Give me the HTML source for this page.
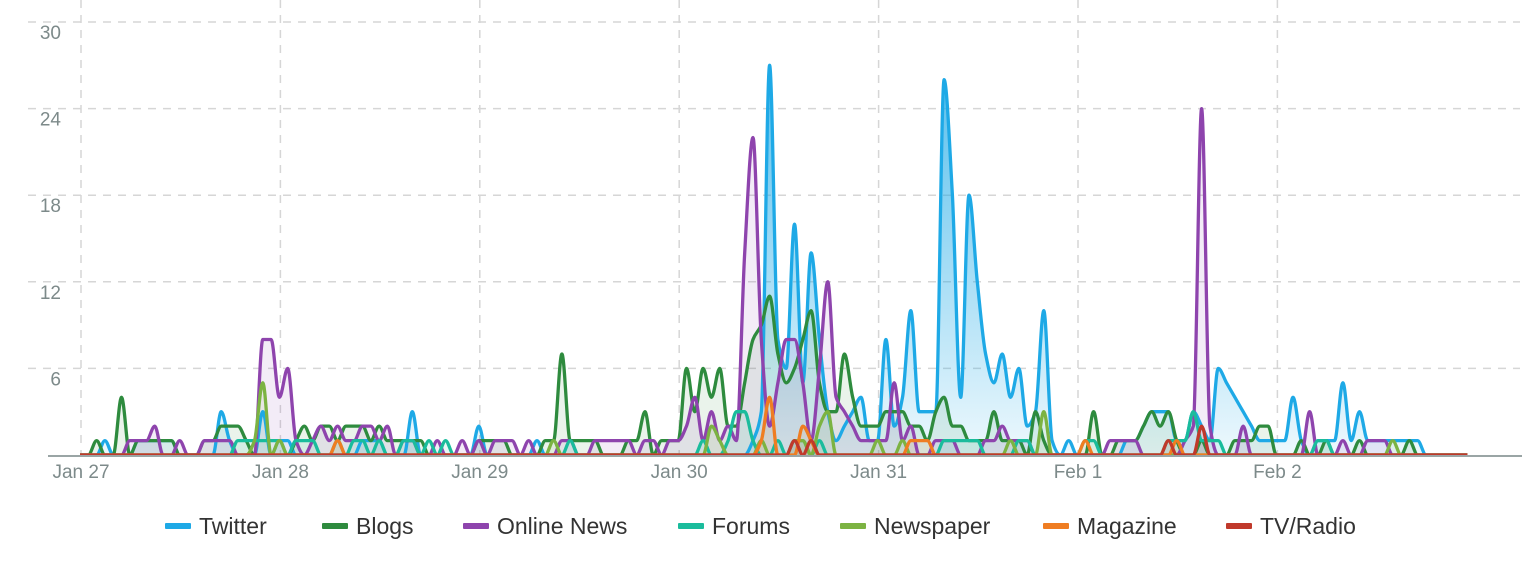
<!DOCTYPE html>
<html><head><meta charset="utf-8"><style>
html,body{margin:0;padding:0;background:#fff;}
body{width:1534px;height:570px;overflow:hidden;font-family:"Liberation Sans",sans-serif;}
svg text{font-family:"Liberation Sans",sans-serif;}
</style></head><body>
<svg id="chart" width="1534" height="570" xmlns="http://www.w3.org/2000/svg">
<defs>
<linearGradient id="twGrad" x1="0" y1="0" x2="0" y2="1">
<stop offset="0" stop-color="#1ea9e6" stop-opacity="0.75"/>
<stop offset="1" stop-color="#1ea9e6" stop-opacity="0.08"/>
</linearGradient>
</defs>
<g id="grid"></g><g id="fills"></g><g id="lines"></g><g id="axes"></g><g id="legend"></g>
</svg>
<script>
const dayLabels = ["Jan 27","Jan 28","Jan 29","Jan 30","Jan 31","Feb 1","Feb 2"];
const yTicks = [6,12,18,24,30];
const seriesNames = ["Twitter","Blogs","Online News","Forums","Newspaper","Magazine","TV/Radio"];
const seriesColors = ["#1ea9e6","#2e8b3e","#8e44ad","#1abc9c","#7cb342","#ef7d22","#c0392b"];
const twitter = [
0,0,0,1,0,0,0,1,1,1,1,1,0,0,0,0,0,3,1,0,0,0,3,0,
1,1,0,0,0,0,0,0,0,0,1,1,1,0,0,0,3,0,0,0,0,0,0,0,
2,0,0,0,0,0,0,1,0,0,0,0,0,0,0,0,0,0,0,0,0,0,0,0,
0,0,0,0,0,0,0,0,0,1,3,27,8,6,16,5,14,8,3,1,2,3,4,1,
1,8,2,4,10,3,3,3,26,18,4,18,12,7,5,7,4,6,2,3,10,1,0,1,
0,0,0,0,0,0,1,1,2,3,3,3,1,1,3,2,1,6,5,4,3,2,1,1,
1,1,4,1,0,1,1,1,5,1,3,1,1,1,1,1,1,1,0,0,0,0,0,0];
const blogs = [
0,0,1,0,0,4,0,1,1,1,1,1,0,0,0,1,1,2,2,2,1,0,0,0,
0,0,1,2,1,2,2,1,2,2,2,1,2,1,1,1,1,1,0,0,0,0,0,0,
1,1,1,1,0,0,0,0,1,1,7,1,1,1,1,0,0,0,1,1,3,0,1,1,
1,6,3,6,4,6,2,2,5,8,9,11,7,5,6,8,10,5,3,3,7,4,2,2,
2,3,3,3,2,2,1,3,4,2,2,1,1,1,3,1,1,1,0,3,1,0,0,0,
0,0,3,0,0,1,1,1,2,3,2,3,1,0,0,1,0,0,0,1,1,1,2,2,
0,0,0,1,0,0,1,0,0,0,1,0,0,0,0,0,1,0,0,0,0,0,0,0];
const onlineNews = [
0,0,0,0,0,0,1,1,1,2,0,0,1,0,0,1,1,1,1,0,0,0,8,8,
4,6,1,0,1,2,1,2,1,1,2,2,1,2,0,1,1,0,0,1,0,0,1,0,
1,0,1,1,1,0,1,0,0,0,1,1,0,0,1,1,1,1,1,0,1,1,0,1,
1,2,4,1,3,1,2,1,14,22,8,2,5,8,8,5,1,6,12,4,3,2,1,1,
1,1,5,1,2,0,0,1,1,1,0,0,0,1,1,2,1,1,1,0,0,0,0,0,
0,0,0,0,1,1,1,1,0,0,0,0,0,1,2,24,2,0,0,0,2,0,0,0,
0,0,0,0,3,0,0,0,1,0,0,1,1,1,0,0,0,0,0,0,0,0,0,0];
const forums = [
0,0,0,0,0,0,0,0,0,0,0,0,0,0,0,0,0,0,0,1,1,1,1,1,
1,0,1,1,1,0,0,1,0,1,1,0,1,0,0,1,1,0,1,0,1,0,0,0,
0,0,0,0,0,0,0,0,0,0,0,1,0,0,0,0,0,0,0,0,0,0,0,0,
0,0,0,1,0,0,1,3,3,1,0,0,1,0,1,1,0,1,0,0,0,0,0,0,
0,0,0,0,0,0,0,0,1,1,1,1,1,0,0,0,0,1,1,0,0,0,0,0,
0,1,1,0,0,0,0,0,0,0,0,1,1,1,3,1,1,1,0,0,0,0,0,0,
0,0,0,0,0,1,1,0,0,0,0,0,0,0,0,0,0,0,0,0,0,0,0,0];
const newspaper = [
0,0,0,0,0,0,0,0,0,0,0,0,0,0,0,0,0,0,0,0,0,1,5,0,
1,0,0,0,0,0,0,0,0,0,0,0,0,0,0,0,0,0,0,0,0,0,0,0,
0,0,0,0,0,0,0,0,0,1,0,0,0,0,0,0,0,0,0,0,0,0,0,0,
0,0,0,0,2,1,0,0,0,0,1,0,0,0,1,1,0,2,3,0,0,0,0,0,
1,0,0,1,0,0,0,0,0,0,0,0,0,0,0,0,1,0,0,0,3,0,0,0,
0,0,0,0,0,0,0,0,0,0,0,0,0,0,0,0,0,0,0,0,0,0,0,0,
0,0,0,0,0,0,0,0,0,0,0,0,0,0,1,0,0,0,0,0,0,0,0,0];
const magazine = [
0,0,0,0,0,0,0,0,0,0,0,0,0,0,0,0,0,0,0,0,0,0,0,0,
0,0,0,0,0,0,0,1,0,0,0,0,0,0,0,0,0,0,0,0,0,0,0,0,
0,0,0,0,0,0,0,0,0,0,0,0,0,0,0,0,0,0,0,0,0,0,0,0,
0,0,0,0,0,0,0,0,0,0,1,4,0,0,0,2,1,0,0,0,0,0,0,0,
0,0,0,0,1,1,1,0,0,0,0,0,0,0,0,0,0,0,0,0,0,0,0,0,
0,1,0,0,0,0,0,0,0,0,0,0,1,0,0,0,0,0,0,0,0,0,0,0,
0,0,0,0,0,0,0,0,0,0,0,0,0,0,0,0,0,0,0,0,0,0,0,0];
const tvRadio = [
0,0,0,0,0,0,0,0,0,0,0,0,0,0,0,0,0,0,0,0,0,0,0,0,
0,0,0,0,0,0,0,0,0,0,0,0,0,0,0,0,0,0,0,0,0,0,0,0,
0,0,0,0,0,0,0,0,0,0,0,0,0,0,0,0,0,0,0,0,0,0,0,0,
0,0,0,0,0,0,0,0,0,0,0,0,0,0,1,0,1,0,0,0,0,0,0,0,
0,0,0,0,0,0,0,0,0,0,0,0,0,0,0,0,0,0,0,0,0,0,0,0,
0,0,0,0,0,0,0,0,0,0,0,1,0,0,0,2,0,0,0,0,0,0,0,0,
0,0,0,0,0,0,0,0,0,0,0,0,0,0,0,0,0,0,0,0,0,0,0,0];
const allSeries = [twitter,blogs,onlineNews,forums,newspaper,magazine,tvRadio];

const NS="http://www.w3.org/2000/svg";
const X0=80, DAYW=199.4, Y0=455, YMAX=30, YTOP=22;
function xScale(h){return X0+h*DAYW/24;}
function yScale(v){return Y0-(v/YMAX)*(Y0-YTOP);}
function mk(tag,attrs,parent){const e=document.createElementNS(NS,tag);for(const k in attrs)e.setAttribute(k,attrs[k]);parent.appendChild(e);return e;}

const grid=document.getElementById('grid'), axes=document.getElementById('axes');
yTicks.forEach(t=>{
  const y=yScale(t);
  const l=mk('line',{x1:28,x2:1520,y1:y,y2:y,stroke:'#d6d6d6','stroke-width':1.5,'stroke-dasharray':'8,7'},grid);
  
  
  const tx=mk('text',{x:61,y:y+17,'text-anchor':'end','font-size':19,fill:'#7d8a8a'},axes);
  tx.textContent=t;
  
  
});
dayLabels.forEach((d,i)=>{
  const x=xScale(i*24)+1;
  const l=mk('line',{x1:x,x2:x,y1:0,y2:Y0,stroke:'#d6d6d6','stroke-width':1.5,'stroke-dasharray':'8,7'},grid);
  
  
  const tx=mk('text',{x:x,y:478,'text-anchor':'middle','font-size':19,fill:'#7d8a8a'},axes);
  tx.textContent=d;
  
  
});
const base=mk('line',{x1:48,x2:1522,y1:Y0+1,y2:Y0+1,stroke:'#9aa5a5','stroke-width':2},axes);



function monoPath(pts){
  const n=pts.length; const dx=[],m=[],t=[];
  for(let i=0;i<n-1;i++){dx.push(pts[i+1][0]-pts[i][0]);m.push((pts[i+1][1]-pts[i][1])/dx[i]);}
  t[0]=m[0];t[n-1]=m[n-2];
  for(let i=1;i<n-1;i++){ if(m[i-1]*m[i]<=0)t[i]=0; else t[i]=3*(dx[i-1]+dx[i])/((2*dx[i]+dx[i-1])/m[i-1]+(dx[i]+2*dx[i-1])/m[i]); }
  let d='M'+pts[0][0].toFixed(1)+','+pts[0][1].toFixed(1);
  for(let i=0;i<n-1;i++){const h=dx[i];
    d+='C'+(pts[i][0]+h/3).toFixed(1)+','+(pts[i][1]+t[i]*h/3).toFixed(1)+' '+(pts[i+1][0]-h/3).toFixed(1)+','+(pts[i+1][1]-t[i+1]*h/3).toFixed(1)+' '+pts[i+1][0].toFixed(1)+','+pts[i+1][1].toFixed(1);}
  return d;
}
const fills=document.getElementById('fills'), lines=document.getElementById('lines');
allSeries.forEach((vals,si)=>{
  const pts=vals.map((v,i)=>[xScale(i),yScale(v)]);
  const d=monoPath(pts);
  const last=pts[pts.length-1][0];
  const f=mk('path',{d:d+'L'+last.toFixed(1)+','+Y0+'L'+X0+','+Y0+'Z',fill:si===0?'url(#twGrad)':seriesColors[si],'fill-opacity':si===0?1:0.1,stroke:'none'},fills);
  
  
  const p=mk('path',{d:d,fill:'none',stroke:seriesColors[si],'stroke-width':3.3,'stroke-linejoin':'round'},lines);
  
  
});
const legend=document.getElementById('legend');
const legX=[165,322,463,678,840,1043,1226];
seriesNames.forEach((n,i)=>{
  const g=mk('g',{},legend);
  
  
  mk('rect',{x:legX[i],y:523,width:26,height:6,rx:1,fill:seriesColors[i]},g);
  const tx=mk('text',{x:legX[i]+34,y:534,'font-size':23,fill:'#333'},g);
  tx.textContent=n;
});
</script>
</body></html>
